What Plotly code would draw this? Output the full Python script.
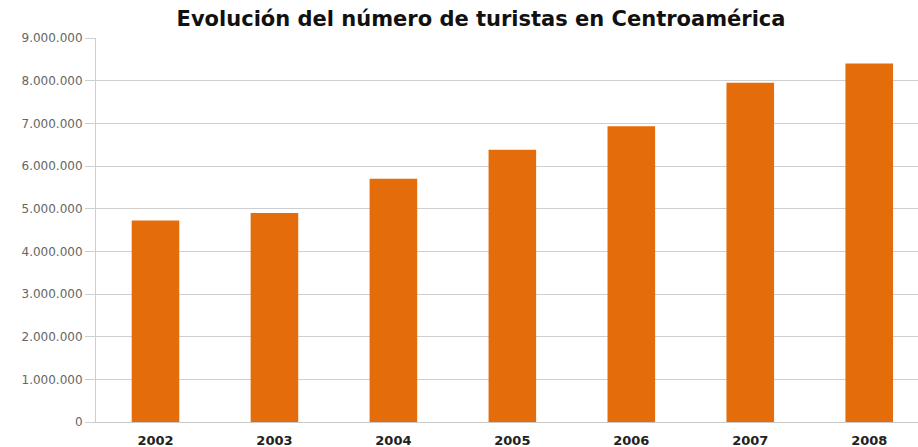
import plotly.graph_objects as go

years = ["2002", "2003", "2004", "2005", "2006", "2007", "2008"]
tourists = [4720000, 4900000, 5700000, 6380000, 6930000, 7950000, 8400000]
y_ticks = [0, 1000000, 2000000, 3000000, 4000000, 5000000, 6000000, 7000000, 8000000, 9000000]

fig = go.Figure(go.Bar(
    x=years, y=tourists, width=0.4,
    marker=dict(color="#E46C0A", line=dict(width=0)),
))

fig.update_layout(
    width=918, height=447,
    margin=dict(l=96, r=0, t=38, b=25),
    paper_bgcolor="white", plot_bgcolor="white",
    separators=",.",
    showlegend=False,
    title=dict(
        text="<b>Evolución del número de turistas en Centroamérica</b>",
        x=0.524, xanchor="center", y=0.958, yanchor="middle",
        font=dict(family="DejaVu Sans", size=21, color="#111111"),
    ),
    xaxis=dict(
        type="category", range=[-0.5, 6.41],
        showgrid=False, showline=True, linecolor="#c8c8c8", linewidth=1,
        ticks="outside", ticklen=6, tickcolor="rgba(0,0,0,0)",
        tickfont=dict(family="DejaVu Sans", size=13, color="#222222"),
        tickprefix="<b>", ticksuffix="</b>",
    ),
    yaxis=dict(
        range=[0, 9000000], tickvals=y_ticks, tickformat=",d",
        showgrid=True, gridcolor="#cfcfcf", gridwidth=1,
        showline=True, linecolor="#cfcfcf", linewidth=1,
        ticks="outside", ticklen=10, tickcolor="#cfcfcf",
        tickfont=dict(family="DejaVu Sans", size=12, color="#666666"),
        zeroline=False,
    ),
)

fig.write_html("out.html")
